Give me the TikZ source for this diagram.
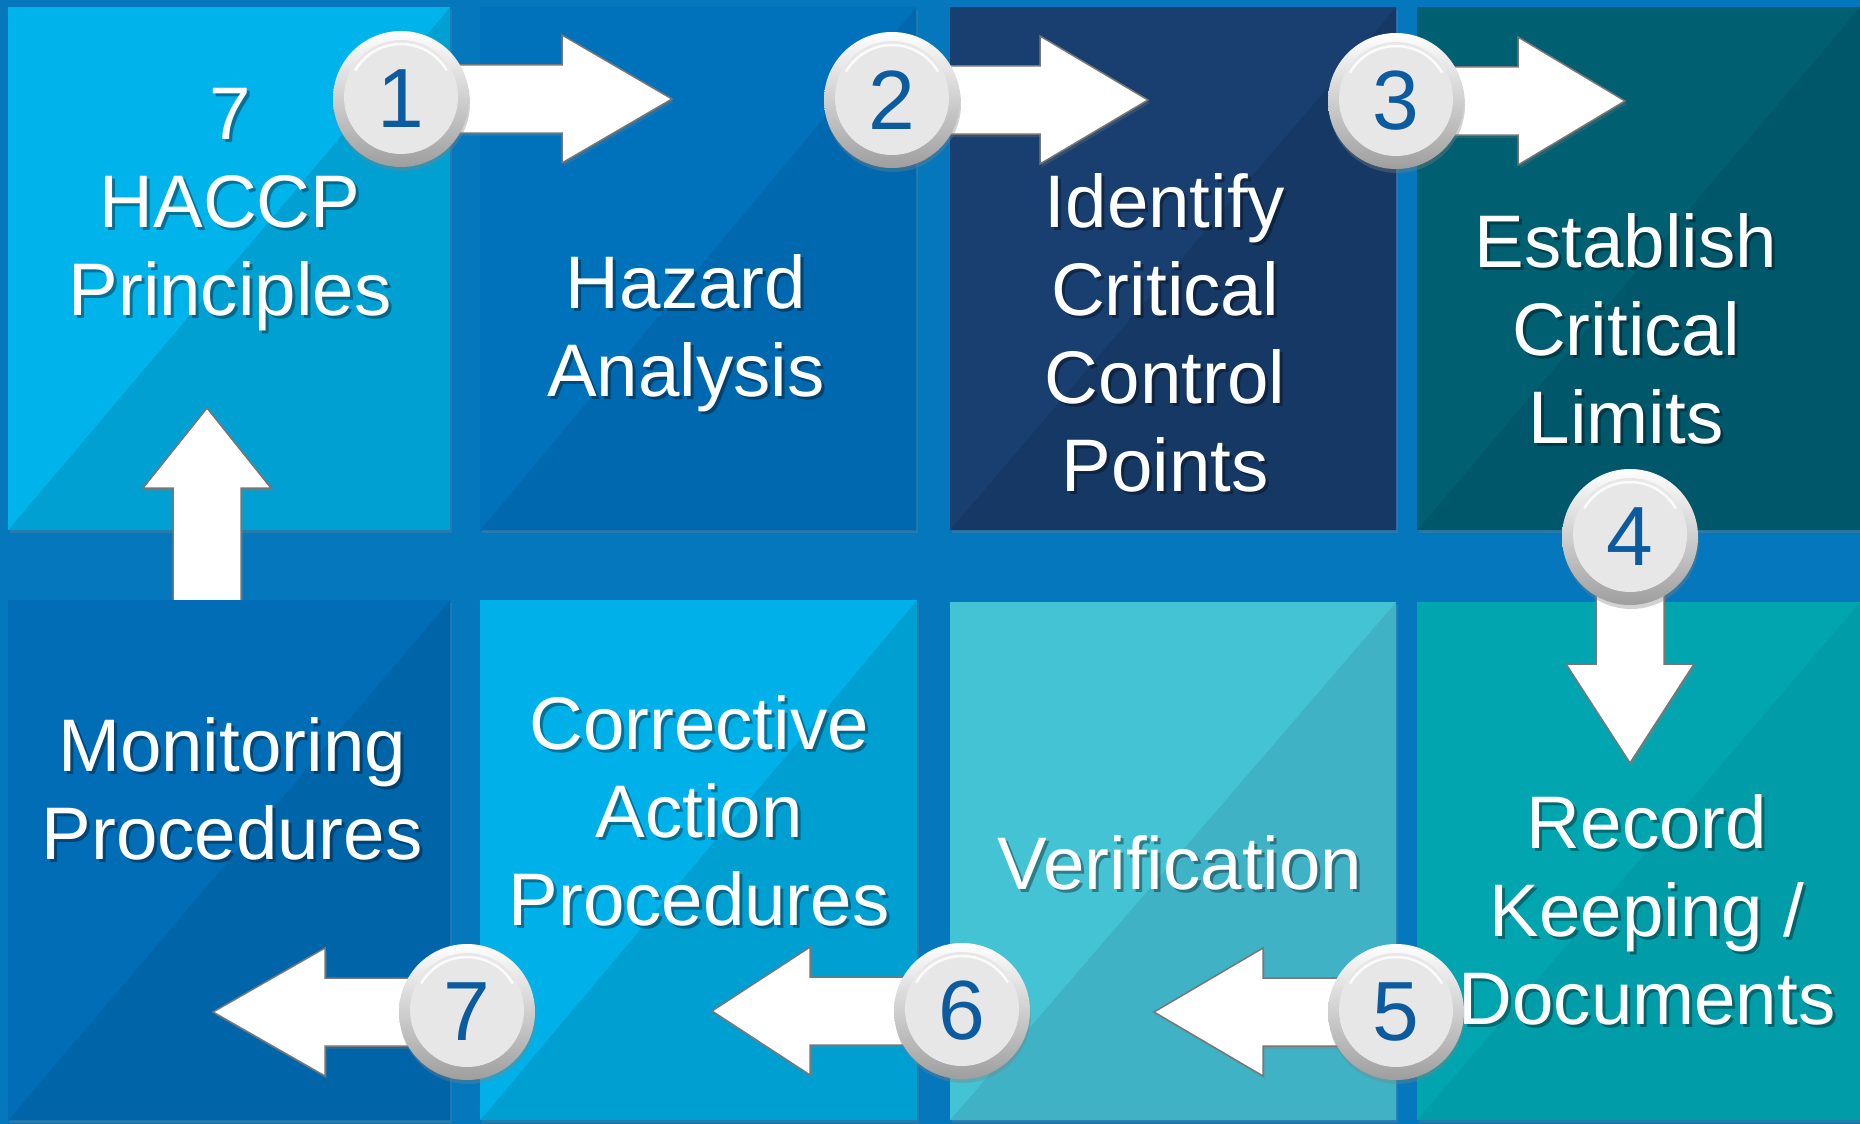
\documentclass[tikz,border=0pt]{standalone}
\usepackage{fontspec}
\setmainfont{Liberation Sans}
\usetikzlibrary{calc,shadows}

% palette
\definecolor{bgblue}{HTML}{0477BD}
\definecolor{tAa}{HTML}{00B3EB}\definecolor{tAb}{HTML}{00A1D2}
\definecolor{tBa}{HTML}{0072BB}\definecolor{tBb}{HTML}{0068AE}
\definecolor{tCa}{HTML}{193F71}\definecolor{tCb}{HTML}{163864}
\definecolor{tDa}{HTML}{005F70}\definecolor{tDb}{HTML}{00576A}
\definecolor{tEa}{HTML}{006DB6}\definecolor{tEb}{HTML}{0064A9}
\definecolor{tFa}{HTML}{00B0E8}\definecolor{tFb}{HTML}{009FD2}
\definecolor{tGa}{HTML}{43C3D3}\definecolor{tGb}{HTML}{3FB2C6}
\definecolor{tHa}{HTML}{00A5AF}\definecolor{tHb}{HTML}{009CA8}
\definecolor{numblue}{HTML}{0B5B9E}
\definecolor{badgeface}{HTML}{E7E7E7}
\definecolor{arrowedge}{HTML}{777777}

\tikzset{
  tile/.style 2 args={rectangle, inner sep=0pt, anchor=north west, fill=#1,
    drop shadow={shadow xshift=2pt, shadow yshift=-3pt, opacity=.3},
    path picture={\fill[#2] (path picture bounding box.south west)
      -- (path picture bounding box.north east)
      -- (path picture bounding box.south east) -- cycle;}},
  tiletext/.style={font=\fontsize{74.5}{88}\selectfont, text=white,
    align=center, inner sep=0pt, anchor=base},
  tileshadow/.style={tiletext, text=black, opacity=.35},
  badge/.style={circle, minimum size=136pt, inner sep=0pt,
    top color=white, bottom color=black!38,
    drop shadow={shadow xshift=1pt, shadow yshift=-4pt, opacity=.35},
    font=\fontsize{84}{84}\selectfont, text=numblue,
    path picture={
      \fill[badgeface] ([yshift=2pt]path picture bounding box.center) circle (57pt);
      \draw[white, line width=2.5pt, opacity=.85]
        ([yshift=2pt]path picture bounding box.center) ++(150:53pt) arc (150:30:53pt);
    }},
  blockarrow/.style={fill=white, draw=arrowedge, line width=1.5pt, line join=miter,
    drop shadow={shadow xshift=2pt, shadow yshift=-3pt, opacity=.25}},
}

% block arrow from #1 (tail) to #2 (tip), head length #3, helper name #4
\newcommand{\blockarrow}[4]{%
  \coordinate (#4) at ($(#2)!#3!(#1)$);
  \path[blockarrow] ($(#1)!34pt!90:(#2)$) -- ($(#4)!34pt!90:(#2)$)
    -- ($(#4)!64pt!90:(#2)$) -- (#2) -- ($(#4)!64pt!-90:(#2)$)
    -- ($(#4)!34pt!-90:(#2)$) -- ($(#1)!34pt!-90:(#2)$) -- cycle;
}

\begin{document}
\begin{tikzpicture}[x=1pt, y=-1pt]
  \useasboundingbox (0,0) rectangle (1860,1124);
  \fill[bgblue] (0,0) rectangle (1860,1124);

  % upper row of tiles
  \node[tile={tAa}{tAb}, minimum width=442pt, minimum height=523pt] (t1) at (8,7) {};
  \node[tile={tBa}{tBb}, minimum width=436pt, minimum height=523pt] (t2) at (480,7) {};
  \node[tile={tCa}{tCb}, minimum width=446pt, minimum height=523pt] (t3) at (950,7) {};
  \node[tile={tDa}{tDb}, minimum width=443pt, minimum height=523pt] (t4) at (1417,7) {};

  % arrow rising from the monitoring tile (drawn beneath it)
  \coordinate (uptail) at (207,620);
  \coordinate (uptip) at (207,408);
  \blockarrow{uptail}{uptip}{80pt}{uphead}

  % lower row of tiles
  \node[tile={tEa}{tEb}, minimum width=442pt, minimum height=520pt] (t5) at (8,600) {};
  \node[tile={tFa}{tFb}, minimum width=437pt, minimum height=520pt] (t6) at (480,600) {};
  \node[tile={tGa}{tGb}, minimum width=446pt, minimum height=518pt] (t7) at (950,602) {};
  \node[tile={tHa}{tHb}, minimum width=443pt, minimum height=518pt] (t8) at (1417,602) {};

  % numbered steps: positions
  \coordinate (p1) at (401,99);
  \coordinate (p2) at (892,100);
  \coordinate (p3) at (1396,101);
  \coordinate (p4) at (1630,537);
  \coordinate (p5) at (1396,1012);
  \coordinate (p6) at (962,1011);
  \coordinate (p7) at (467,1012);

  % arrow tips
  \coordinate (k1) at (672,99);
  \coordinate (k2) at (1148,100);
  \coordinate (k3) at (1625,101);
  \coordinate (k4) at (1630,763);
  \coordinate (k5) at (1154,1012);
  \coordinate (k6) at (712,1011);
  \coordinate (k7) at (213,1012);

  \blockarrow{p1}{k1}{110pt}{h1}
  \blockarrow{p2}{k2}{108pt}{h2}
  \blockarrow{p3}{k3}{107pt}{h3}
  \blockarrow{p4}{k4}{99pt}{h4}
  \blockarrow{p5}{k5}{109pt}{h5}
  \blockarrow{p6}{k6}{98pt}{h6}
  \blockarrow{p7}{k7}{112pt}{h7}

  % badges
  \node[badge] (b1) at (p1) {1};
  \node[badge] (b2) at (p2) {2};
  \node[badge] (b3) at (p3) {3};
  \node[badge] (b4) at (p4) {4};
  \node[badge] (b5) at (p5) {5};
  \node[badge] (b6) at (p6) {6};
  \node[badge] (b7) at (p7) {7};

  % tile captions (soft shadow first, then white text); anchored at last baseline
  \node[tileshadow] (s1) at (233,318) {7\\HACCP\\Principles};
  \node[tiletext] (l1) at (230,315) {7\\HACCP\\Principles};
  \node[tileshadow] (s2) at (689,399) {Hazard\\Analysis};
  \node[tiletext] (l2) at (686,396) {Hazard\\Analysis};
  \node[tileshadow] (s3) at (1168,494) {Identify\\Critical\\Control\\Points};
  \node[tiletext] (l3) at (1165,491) {Identify\\Critical\\Control\\Points};
  \node[tileshadow] (s4) at (1629,446) {Establish\\Critical\\Limits};
  \node[tiletext] (l4) at (1626,443) {Establish\\Critical\\Limits};
  \node[tileshadow] (s5) at (235,862) {Monitoring\\Procedures};
  \node[tiletext] (l5) at (232,859) {Monitoring\\Procedures};
  \node[tileshadow] (s6) at (702,928) {Corrective\\Action\\Procedures};
  \node[tiletext] (l6) at (699,925) {Corrective\\Action\\Procedures};
  \node[tileshadow] (s7) at (1183,892) {Verification};
  \node[tiletext] (l7) at (1180,889) {Verification};
  \node[tileshadow] (s8) at (1650,1027) {Record\\Keeping /\\Documents};
  \node[tiletext] (l8) at (1647,1024) {Record\\Keeping /\\Documents};
\end{tikzpicture}
\end{document}
